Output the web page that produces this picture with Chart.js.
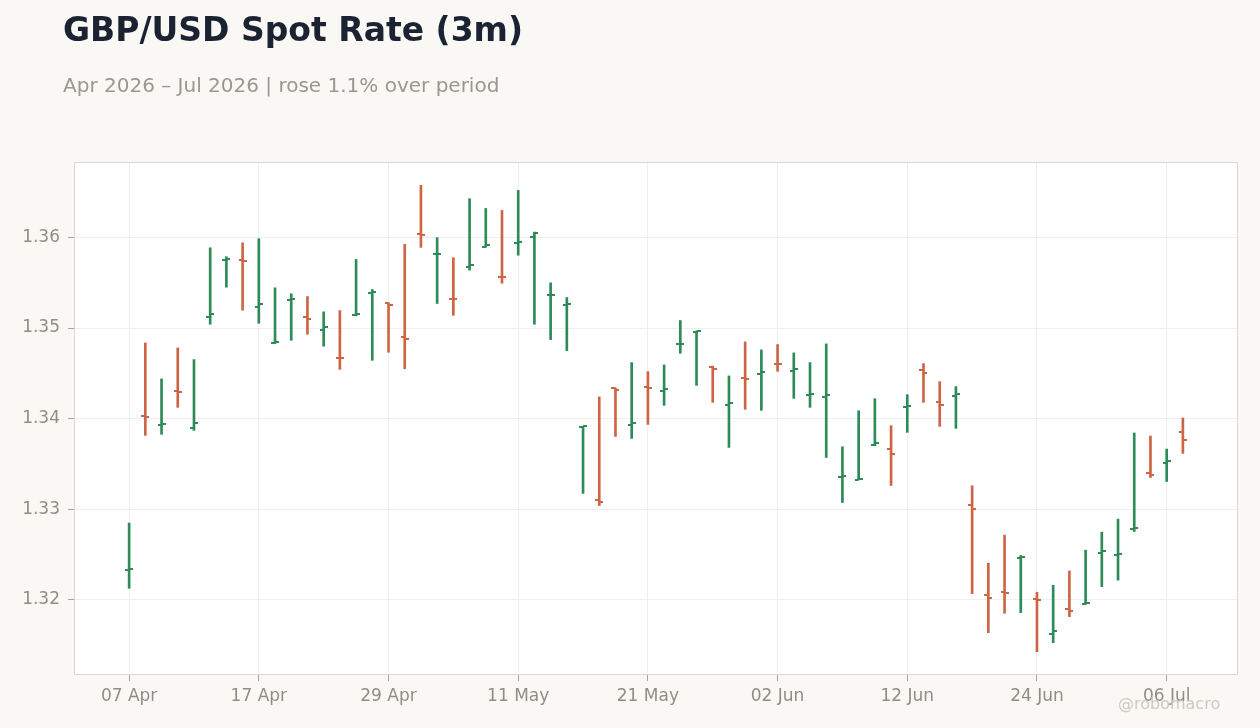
<!DOCTYPE html>
<html>
<head>
<meta charset="utf-8">
<script src="https://cdn.jsdelivr.net/npm/chart.js@4.4.1/dist/chart.umd.min.js"></script>
<style>
html, body { margin: 0; padding: 0; background: #f9f8f5; }
#wrap { position: relative; width: 1260px; height: 728px; overflow: hidden; }
#chart { position: absolute; left: 0; top: 0; }
.txt { position: absolute; font-family: "DejaVu Sans", sans-serif; line-height: 1; white-space: nowrap; }
#title { left: 63px; top: 13px; font-size: 33px; font-weight: bold; color: #1b2333; }
#subtitle { left: 63px; top: 75px; font-size: 20px; color: #9a9692; }
#credit { left: 1118px; top: 696px; font-size: 16px; color: #ccc9c4; z-index: 2; }
</style>
</head>
<body>
<div id="wrap">
  <canvas id="chart" width="1260" height="728"></canvas>
  <div id="title" class="txt">GBP/USD Spot Rate (3m)</div>
  <div id="subtitle" class="txt">Apr 2026 – Jul 2026 | rose 1.1% over period</div>
  <div id="credit" class="txt">@robomacro</div>
</div>
<script>
// trading days
var dates = [
  '07 Apr','08 Apr','09 Apr','10 Apr','13 Apr','14 Apr','15 Apr','16 Apr','17 Apr','20 Apr',
  '21 Apr','22 Apr','23 Apr','24 Apr','27 Apr','28 Apr','29 Apr','30 Apr','01 May','04 May',
  '05 May','06 May','07 May','08 May','11 May','12 May','13 May','14 May','15 May','18 May',
  '19 May','20 May','21 May','22 May','25 May','26 May','27 May','28 May','29 May','01 Jun',
  '02 Jun','03 Jun','04 Jun','05 Jun','08 Jun','09 Jun','10 Jun','11 Jun','12 Jun','15 Jun',
  '16 Jun','17 Jun','18 Jun','19 Jun','22 Jun','23 Jun','24 Jun','25 Jun','26 Jun','29 Jun',
  '30 Jun','01 Jul','02 Jul','03 Jul','06 Jul','07 Jul'
];

var opens = [
  1.32331, 1.34026, 1.33934, 1.34304, 1.33893, 1.35120, 1.35754, 1.35749, 1.35230, 1.34838,
  1.35307, 1.35120, 1.34983, 1.34674, 1.35141, 1.35385, 1.35274, 1.34898, 1.36036, 1.35812,
  1.35323, 1.35676, 1.35897, 1.35565, 1.35934, 1.36003, 1.35363, 1.35259, 1.33904, 1.33105,
  1.34335, 1.33926, 1.34345, 1.34306, 1.34821, 1.34960, 1.34575, 1.34155, 1.34448, 1.34497,
  1.34603, 1.34530, 1.34262, 1.34243, 1.33360, 1.33326, 1.33713, 1.33661, 1.34125, 1.34534,
  1.34180, 1.34246, 1.33053, 1.32055, 1.32090, 1.32465, 1.32005, 1.31624, 1.31904, 1.31955,
  1.32523, 1.32500, 1.32781, 1.33403, 1.33506, 1.33849
];
var highs = [
  1.32848, 1.34836, 1.34439, 1.34781, 1.34652, 1.35886, 1.35787, 1.35941, 1.35986, 1.35444,
  1.35378, 1.35348, 1.35179, 1.35193, 1.35757, 1.35425, 1.35278, 1.35923, 1.36575, 1.35997,
  1.35776, 1.36428, 1.36320, 1.36298, 1.36519, 1.36059, 1.35499, 1.35337, 1.33915, 1.34240,
  1.34339, 1.34619, 1.34519, 1.34593, 1.35083, 1.34965, 1.34580, 1.34472, 1.34847, 1.34759,
  1.34818, 1.34726, 1.34619, 1.34825, 1.33690, 1.34088, 1.34221, 1.33923, 1.34265, 1.34608,
  1.34409, 1.34354, 1.33260, 1.32405, 1.32715, 1.32490, 1.32085, 1.32162, 1.32320, 1.32549,
  1.32748, 1.32892, 1.33842, 1.33809, 1.33665, 1.34008
];
var lows = [
  1.32129, 1.33816, 1.33827, 1.34125, 1.33871, 1.35042, 1.35451, 1.35197, 1.35053, 1.34829,
  1.34865, 1.34932, 1.34800, 1.34545, 1.35135, 1.34644, 1.34733, 1.34552, 1.35890, 1.35271,
  1.35141, 1.35639, 1.35893, 1.35495, 1.35804, 1.35042, 1.34873, 1.34751, 1.33175, 1.33042,
  1.33804, 1.33782, 1.33937, 1.34147, 1.34722, 1.34368, 1.34180, 1.33683, 1.34103, 1.34092,
  1.34523, 1.34224, 1.34125, 1.33572, 1.33075, 1.33326, 1.33702, 1.33263, 1.33849, 1.34180,
  1.33915, 1.33893, 1.32070, 1.31639, 1.31853, 1.31860, 1.31429, 1.31528, 1.31816, 1.31952,
  1.32147, 1.32218, 1.32755, 1.33351, 1.33307, 1.33617
];
var closes = [
  1.32340, 1.34014, 1.33937, 1.34298, 1.33948, 1.35153, 1.35765, 1.35738, 1.35263, 1.34842,
  1.35323, 1.35097, 1.35009, 1.34667, 1.35153, 1.35395, 1.35252, 1.34884, 1.36025, 1.35818,
  1.35318, 1.35694, 1.35915, 1.35558, 1.35945, 1.36048, 1.35370, 1.35265, 1.33915, 1.33086,
  1.34320, 1.33956, 1.34340, 1.34324, 1.34824, 1.34965, 1.34550, 1.34169, 1.34443, 1.34512,
  1.34598, 1.34545, 1.34268, 1.34265, 1.33365, 1.33330, 1.33727, 1.33613, 1.34136, 1.34501,
  1.34155, 1.34269, 1.33006, 1.32025, 1.32075, 1.32470, 1.32000, 1.31657, 1.31882, 1.31970,
  1.32545, 1.32512, 1.32799, 1.33381, 1.33528, 1.33768
];

var yTicks = [1.32, 1.33, 1.34, 1.35, 1.36];
var xTickEvery = 8;

var UP = '#2e8a56';
var DOWN = '#cc6545';

// little tick images for open (left) and close (right)
function tickImg(color, side) {
  var c = document.createElement('canvas');
  c.width = 8; c.height = 2;
  var g = c.getContext('2d');
  g.fillStyle = color;
  g.fillRect(side == 'left' ? 0 : 4, 0, 4, 2);
  return c;
}
var openUp = tickImg(UP, 'left'), openDown = tickImg(DOWN, 'left');
var closeUp = tickImg(UP, 'right'), closeDown = tickImg(DOWN, 'right');

var barColors = [];
var rangeData = [], openData = [], closeData = [];
for (var i = 0; i < dates.length; i++) {
  barColors.push(closes[i] >= opens[i] ? UP : DOWN);
  rangeData.push({x: i, y: [lows[i], highs[i]]});
  openData.push({x: i, y: opens[i]});
  closeData.push({x: i, y: closes[i]});
}

// y range padded 5% beyond the data
var lo = Math.min.apply(null, lows), hi = Math.max.apply(null, highs);
var pad = (hi - lo) * 0.05;

var framePlugin = {
  id: 'frame',
  beforeDraw: function(chart) {
    var a = chart.chartArea, ctx = chart.ctx;
    ctx.save();
    ctx.fillStyle = '#ffffff';
    ctx.fillRect(a.left, a.top, a.right - a.left, a.bottom - a.top);
    ctx.restore();
  },
  afterDraw: function(chart) {
    var a = chart.chartArea, ctx = chart.ctx;
    ctx.save();
    ctx.strokeStyle = '#dcd8d0';
    ctx.lineWidth = 1;
    ctx.strokeRect(a.left + 0.5, a.top + 0.5, a.right - a.left - 1, a.bottom - a.top - 1);
    ctx.restore();
  }
};

var tickFont = {family: 'DejaVu Sans', size: 17};

new Chart(document.getElementById('chart'), {
  type: 'bar',
  data: {
    datasets: [
      {
        type: 'bar',
        data: rangeData,
        backgroundColor: barColors,
        borderWidth: 0,
        barThickness: 2,
        order: 2
      },
      {
        type: 'line',
        data: openData,
        showLine: false,
        pointStyle: function(ctx) { return barColors[ctx.dataIndex] == UP ? openUp : openDown; },
        pointRadius: 4,
        order: 1
      },
      {
        type: 'line',
        data: closeData,
        showLine: false,
        pointStyle: function(ctx) { return barColors[ctx.dataIndex] == UP ? closeUp : closeDown; },
        pointRadius: 4,
        order: 1
      }
    ]
  },
  options: {
    responsive: false,
    animation: false,
    layout: { padding: { left: 0, right: 22, top: 162, bottom: 0 } },
    plugins: {
      legend: { display: false },
      tooltip: { enabled: false },
      title: { display: false }
    },
    scales: {
      x: {
        type: 'linear',
        min: -3.4,
        max: 68.4,
        offset: false,
        afterBuildTicks: function(scale) {
          var t = [];
          for (var k = 0; k < dates.length; k += xTickEvery) t.push({value: k});
          scale.ticks = t;
        },
        afterFit: function(scale) { scale.height = 53; },
        ticks: {
          color: '#918c87',
          font: tickFont,
          padding: 5,
          maxRotation: 0,
          autoSkip: false,
          callback: function(v) { return dates[v]; }
        },
        grid: { offset: false, color: '#efefef', tickColor: '#a8a39d', tickLength: 6 },
        border: { display: false }
      },
      y: {
        min: lo - pad,
        max: hi + pad,
        afterBuildTicks: function(scale) {
          scale.ticks = yTicks.map(function(v) { return {value: v}; });
        },
        afterFit: function(scale) { scale.width = 74; },
        ticks: {
          color: '#918c87',
          font: tickFont,
          padding: 8,
          callback: function(v) { return v.toFixed(2); }
        },
        grid: { color: '#efefef', tickColor: '#a8a39d', tickLength: 6 },
        border: { display: false }
      }
    }
  },
  plugins: [framePlugin]
});
</script>
</body>
</html>
